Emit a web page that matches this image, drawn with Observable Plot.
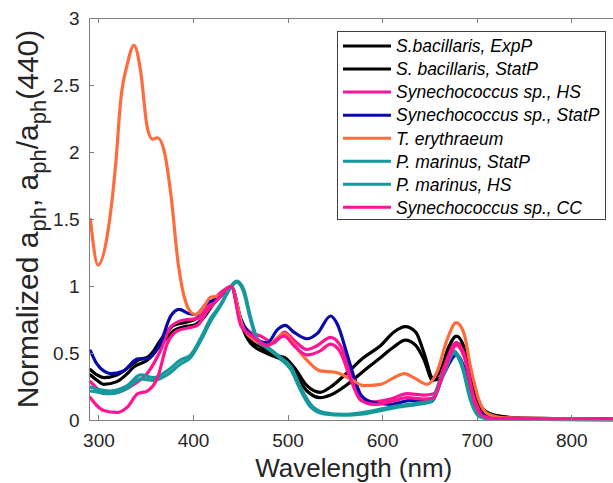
<!DOCTYPE html>
<html><head><meta charset="utf-8">
<script src="https://cdn.jsdelivr.net/npm/d3@7"></script>
<script src="https://cdn.jsdelivr.net/npm/@observablehq/plot@0.6"></script>
<style>
html,body{margin:0;padding:0;background:#fff;overflow:hidden;}
#wrap{position:relative;width:613px;height:483px;overflow:hidden;}
</style></head><body><div id="wrap"></div>
<script>
const seriesNames = ["S.bacillaris, ExpP","S. bacillaris, StatP","Synechococcus sp., HS","Synechococcus sp., StatP","T. erythraeum","P. marinus, StatP","P. marinus, HS","Synechococcus sp., CC"];
const seriesColors = ["#000000","#000000","#ff1493","#0a0aaa","#ff6b3d","#17999b","#17999b","#ff1493"];

const sbExpP = [[291,0.38],[298,0.34],[305,0.32],[319,0.34],[330,0.39],[337,0.43],[345,0.46],[351,0.47],[358,0.52],[365,0.60],[372,0.66],[379,0.71],[390,0.73],[400,0.75],[411,0.80],[421,0.88],[432,0.96],[440,1.0],[450,0.75],[460,0.60],[471,0.55],[485,0.49],[496,0.47],[506,0.40],[520,0.26],[534,0.21],[545,0.25],[563,0.36],[580,0.47],[598,0.56],[612,0.66],[624,0.70],[635,0.66],[644,0.50],[653,0.32],[661,0.37],[670,0.55],[678,0.63],[686,0.55],[695,0.27],[704,0.10],[718,0.04],[742,0.02],[780,0.015],[850,0.01]];
const sbStatP = [[291,0.34],[298,0.30],[305,0.27],[319,0.29],[330,0.35],[337,0.40],[351,0.45],[365,0.56],[379,0.67],[390,0.70],[400,0.71],[411,0.77],[421,0.87],[432,0.95],[440,1.0],[450,0.73],[460,0.58],[478,0.50],[496,0.44],[506,0.36],[520,0.22],[534,0.17],[545,0.19],[563,0.27],[580,0.37],[598,0.47],[612,0.55],[624,0.60],[635,0.56],[644,0.45],[653,0.30],[661,0.32],[670,0.50],[678,0.58],[686,0.51],[695,0.25],[704,0.08],[718,0.03],[742,0.015],[850,0.01]];
const synHS = [[291,0.29],[298,0.24],[305,0.20],[319,0.21],[337,0.27],[351,0.35],[365,0.52],[376,0.70],[390,0.75],[404,0.76],[415,0.85],[425,0.93],[440,1.0],[450,0.74],[460,0.66],[471,0.63],[485,0.58],[496,0.66],[506,0.60],[520,0.53],[531,0.56],[545,0.62],[556,0.55],[566,0.35],[577,0.18],[591,0.14],[608,0.16],[626,0.20],[644,0.19],[654,0.20],[665,0.40],[678,0.58],[686,0.50],[697,0.16],[707,0.04],[720,0.02],[850,0.01]];
const synStatP = [[291,0.52],[298,0.42],[305,0.37],[312,0.35],[326,0.37],[341,0.46],[351,0.46],[365,0.58],[376,0.78],[385,0.83],[394,0.80],[402,0.79],[415,0.88],[425,0.91],[436,0.99],[440,1.0],[450,0.76],[464,0.62],[478,0.58],[489,0.68],[497,0.71],[506,0.66],[520,0.61],[531,0.65],[545,0.78],[552,0.72],[563,0.48],[570,0.32],[577,0.19],[587,0.14],[608,0.12],[630,0.15],[651,0.14],[665,0.35],[678,0.49],[686,0.40],[697,0.12],[707,0.04],[720,0.02],[850,0.01]];
const tEry = [[291,1.50],[299,1.16],[309,1.39],[318,1.94],[323,2.39],[330,2.66],[337,2.80],[344,2.61],[351,2.19],[356.5,2.10],[362,2.11],[369,2.01],[376,1.69],[384,1.16],[388,0.99],[395,0.83],[402,0.79],[411,0.85],[418,0.92],[427,0.93],[436,0.99],[440,1.0],[452,0.70],[464,0.60],[478,0.56],[496,0.65],[506,0.57],[520,0.45],[534,0.37],[550,0.36],[566,0.31],[580,0.26],[598,0.27],[612,0.32],[623,0.35],[633,0.32],[647,0.27],[658,0.37],[668,0.60],[678,0.73],[686,0.65],[693,0.40],[702,0.15],[711,0.05],[728,0.02],[850,0.01]];
const pmStatP = [[291,0.25],[300,0.23],[312,0.22],[330,0.26],[344,0.34],[358,0.32],[372,0.37],[386,0.45],[397,0.49],[408,0.62],[418,0.76],[429,0.87],[437.5,0.98],[445.6,1.04],[453,0.98],[460,0.78],[467.5,0.61],[478,0.55],[492,0.47],[503,0.40],[513,0.25],[524,0.12],[538,0.06],[559,0.045],[580,0.06],[616,0.11],[637,0.13],[651,0.15],[665,0.37],[675.5,0.52],[684,0.42],[693,0.17],[702,0.04],[715,0.01],[850,0.005]];
const pmHS = [[291,0.22],[300,0.21],[312,0.20],[330,0.24],[344,0.31],[358,0.30],[372,0.34],[386,0.42],[397,0.47],[408,0.60],[418,0.74],[429,0.86],[437.5,0.97],[445.6,1.03],[453,0.96],[460,0.76],[467.5,0.60],[478,0.54],[492,0.46],[503,0.38],[513,0.23],[524,0.10],[538,0.05],[559,0.04],[580,0.05],[616,0.10],[637,0.12],[651,0.14],[665,0.35],[675.5,0.50],[684,0.40],[693,0.15],[702,0.03],[715,0.01],[850,0.005]];
const synCC = [[291,0.17],[298,0.11],[305,0.075],[319,0.06],[330,0.10],[341,0.20],[351,0.22],[362,0.32],[372,0.57],[383,0.67],[394,0.69],[404,0.71],[415,0.82],[425,0.90],[440,1.0],[450,0.71],[464,0.62],[478,0.56],[496,0.63],[506,0.56],[520,0.49],[534,0.52],[545,0.57],[556,0.50],[566,0.31],[577,0.15],[591,0.12],[608,0.14],[626,0.17],[644,0.16],[654,0.17],[665,0.37],[678,0.56],[686,0.48],[697,0.14],[707,0.03],[720,0.015],[850,0.01]];

const xTicks = [300,400,500,600,700,800];
const yTicks = [0,0.5,1,1.5,2,2.5,3];
const yTickLabels = ["0","0.5","1","1.5","2","2.5","3"];
const xDomain = [290,850];
const yDomain = [0,3];
const xLabel = "Wavelength (nm)";

const allSeries = [sbExpP, sbStatP, synHS, synStatP, tEry, pmStatP, pmHS, synCC];
const axisGray = "#808080";
const textCol = "#262626";

const chart = Plot.plot({
  width: 613, height: 483,
  marginLeft: 89, marginRight: 0, marginTop: 18, marginBottom: 63,
  style: {fontFamily: "'Liberation Sans', Arial, sans-serif", fontSize: "19px", color: textCol, background: "#fff", overflow: "hidden"},
  x: {domain: xDomain, range: [89, 618.5]},
  y: {domain: yDomain},
  marks: [
    ...allSeries.map((arr, i) => Plot.line(arr, {x: d => d[0], y: d => d[1], stroke: seriesColors[i], strokeWidth: 3.2, curve: "monotone-x"})),
    Plot.ruleY([yDomain[0], yDomain[1]], {stroke: axisGray, strokeWidth: 1}),
    Plot.ruleX([xDomain[0], xDomain[1]], {stroke: axisGray, strokeWidth: 1}),
    Plot.axisX({ticks: xTicks, tickSize: 0, tickPadding: 13, label: null, tickFormat: d => String(d), fill: textCol}),
    Plot.axisY({ticks: yTicks, tickSize: 0, tickPadding: 10, label: null, tickFormat: d => yTickLabels[yTicks.indexOf(d)], fill: textCol})
  ]
});
document.getElementById("wrap").appendChild(chart);

const svg = d3.select(chart);
const sx = chart.scale("x"), sy = chart.scale("y");
const x0 = sx.apply(xDomain[0]), x1 = sx.apply(xDomain[1]);
const y0 = sy.apply(yDomain[0]), y1 = sy.apply(yDomain[1]);
const tl = 5;
const tg = svg.append("g").attr("stroke", axisGray).attr("stroke-width", 1);
xTicks.forEach(t => {
  const p = Math.round(sx.apply(t)) + 0.5;
  tg.append("line").attr("x1", p).attr("x2", p).attr("y1", y0).attr("y2", y0 - tl);
  tg.append("line").attr("x1", p).attr("x2", p).attr("y1", y1).attr("y2", y1 + tl);
});
yTicks.forEach(t => {
  const p = Math.round(sy.apply(t)) + 0.5;
  tg.append("line").attr("x1", x0).attr("x2", x0 + tl).attr("y1", p).attr("y2", p);
  tg.append("line").attr("x1", x1).attr("x2", x1 - tl).attr("y1", p).attr("y2", p);
});

// x label
svg.append("text").attr("x", (x0 + x1) / 2).attr("y", 477).attr("text-anchor", "middle")
  .attr("font-size", 26).attr("fill", textCol).text(xLabel);

// y label with subscripts
const yl = svg.append("text").attr("transform", `translate(38,219) rotate(-90)`)
  .attr("text-anchor", "middle").attr("font-size", 30).attr("fill", textCol);
const parts = [["Normalized a", 0], ["ph", 1], [", a", 0], ["ph", 1], ["/a", 0], ["ph", 1], ["(440)", 0]];
let prevSub = 0;
parts.forEach(([t, sub]) => {
  const ts = yl.append("tspan").text(t);
  if (sub) ts.attr("font-size", 22);
  const dy = sub - prevSub;
  if (dy !== 0) ts.attr("dy", dy * 8);
  prevSub = sub;
});

// legend
const lg = svg.append("g");
const lx = 337.5, ly = 31.5, lw = 268, lh = 188;
lg.append("rect").attr("x", lx).attr("y", ly).attr("width", lw).attr("height", lh)
  .attr("fill", "#fff").attr("stroke", "#404040").attr("stroke-width", 1);
seriesNames.forEach((n, i) => {
  const cy = 46 + i * 23.05;
  lg.append("line").attr("x1", 343).attr("x2", 391).attr("y1", cy).attr("y2", cy)
    .attr("stroke", seriesColors[i]).attr("stroke-width", 3);
  lg.append("text").attr("x", 396).attr("y", cy).attr("dy", "0.36em").attr("text-anchor", "start")
    .attr("font-size", 17.5).attr("font-style", "italic").attr("fill", "#000").text(n);
});
</script></body></html>
